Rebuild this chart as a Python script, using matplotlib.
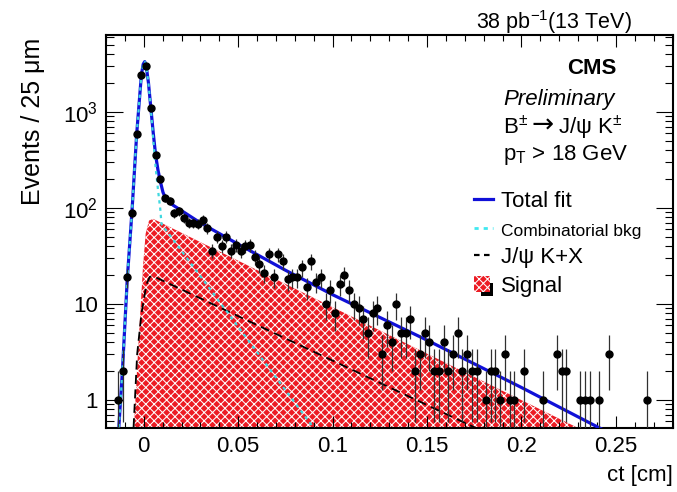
import numpy as np
import matplotlib
matplotlib.use('Agg')
import matplotlib.pyplot as plt
from matplotlib.ticker import FixedLocator, FixedFormatter, MultipleLocator, LogLocator, NullFormatter
from matplotlib.lines import Line2D
from matplotlib.patches import Patch, Rectangle
from matplotlib.legend_handler import HandlerPatch

plt.rcParams['font.family'] = ['Liberation Sans', 'DejaVu Sans']
plt.rcParams['mathtext.fontset'] = 'custom'
plt.rcParams['mathtext.rm'] = 'Liberation Sans'
plt.rcParams['mathtext.it'] = 'Liberation Sans:italic'
plt.rcParams['mathtext.bf'] = 'Liberation Sans:bold'
plt.rcParams['hatch.linewidth'] = 0.75
plt.rcParams['hatch.color'] = 'white'

# ---------------- data ----------------
ct = [-0.01375, -0.01125, -0.00875, -0.00625, -0.00375, -0.00125, 0.00125, 0.00375, 0.00625, 0.00875,
      0.01125, 0.01375, 0.01625, 0.01875, 0.02125, 0.02375, 0.02625, 0.02875, 0.03125, 0.03375,
      0.03625, 0.03875, 0.04125, 0.04375, 0.04625, 0.04875, 0.05125, 0.05375, 0.05625, 0.05875,
      0.06125, 0.06375, 0.06625, 0.06875, 0.07125, 0.07375, 0.07625, 0.07875, 0.08125, 0.08375,
      0.08625, 0.08875, 0.09125, 0.09375, 0.09625, 0.09875, 0.10125, 0.10375, 0.10625, 0.10875,
      0.11125, 0.11375, 0.11625, 0.11875, 0.12125, 0.12375, 0.12625, 0.12875, 0.13125, 0.13375,
      0.13625, 0.13875, 0.14125, 0.14375, 0.14625, 0.14875, 0.15125, 0.15375, 0.15625, 0.15875,
      0.16125, 0.16375, 0.16625, 0.16875, 0.17125, 0.17375, 0.17625,
      0.18125, 0.18375, 0.18625, 0.18875, 0.19125, 0.19375, 0.19625,
      0.20125, 0.21125, 0.21875, 0.22125, 0.22375, 0.23125, 0.23375, 0.23625, 0.24125, 0.24625, 0.26625]
events = [1, 2, 19, 88, 590, 2450, 3010, 1100, 354, 199,
          128, 119, 89, 93, 79, 70, 70, 68, 75, 62,
          36, 50, 40, 50, 36, 41, 36, 40, 41, 31,
          26, 21, 33, 19, 33, 28, 18, 19, 19, 24,
          15, 28, 17, 19, 10, 14, 8, 16, 20, 14,
          10, 9, 7, 5, 8, 9, 3, 6, 4, 10,
          5, 5, 7, 2, 3, 5, 4, 2, 2, 4,
          2, 3, 5, 2, 3, 2, 2,
          1, 2, 2, 1, 3, 1, 1,
          2, 1, 3, 2, 2, 1, 1, 1, 1, 3, 1]

# Total fit curve
fit_ct = [-0.0132, -0.01125, -0.00875, -0.00625, -0.00375, -0.00125, -0.0003, 0.0005, 0.00125, 0.0025,
          0.00375, 0.005, 0.00625, 0.0075, 0.00875, 0.0102, 0.012, 0.0155, 0.03, 0.05,
          0.075, 0.10, 0.15, 0.20, 0.2406, 0.28]
fit_total = [0.52, 2.1, 18, 92, 590, 2450, 3150, 3350, 3050, 2000,
             1100, 610, 360, 250, 190, 145, 122, 107, 70, 42,
             22.5, 12.5, 4.2, 1.35, 0.52, 0.21]

# Combinatorial background (cyan dotted)
comb_ct = [-0.0132, -0.01125, -0.00875, -0.00625, -0.00375, -0.00125, -0.0003, 0.0005, 0.00125, 0.0025,
           0.00375, 0.005, 0.00625, 0.0075, 0.00875, 0.0094, 0.0897, 0.10]
comb_bkg = [0.52, 2.1, 18, 92, 590, 2440, 3130, 3330, 3030, 1970,
            1070, 520, 268, 157, 97, 68, 0.52, 0.28]

# J/psi K + X (black dashed)
jpsikx_ct = [-0.0054, -0.0035, -0.0012, 0.0014, 0.0032, 0.005, 0.175, 0.19]
jpsikx_val = [0.52, 3.0, 8.0, 16.0, 19.2, 19.5, 0.52, 0.3]

# Signal (red hatched)
sig_ct = [-0.0052, -0.0038, -0.0025, -0.0004, 0.001, 0.0028, 0.005, 0.2292, 0.24]
sig_val = [0.52, 1.7, 4.9, 24.5, 54, 74, 77, 0.52, 0.35]

xtick_vals = [0, 0.05, 0.1, 0.15, 0.2, 0.25]
xtick_labels = ['0', '0.05', '0.1', '0.15', '0.2', '0.25']
ytick_vals = [1, 10, 100, 1000]
ytick_labels = ['1', '10', '$10^{2}$', '$10^{3}$']

SIG_RED = '#ec1c24'


class ShadowBoxHandler(HandlerPatch):
    """Hatched box with a small black shadow at the lower right (ROOT style)."""
    def create_artists(self, legend, orig_handle, xdescent, ydescent, width, height,
                       fontsize, trans):
        x0, y0 = -xdescent, -ydescent
        side = height * 1.0
        shadow = Rectangle((x0 + side * 0.45, y0 - side * 0.28), side * 0.8, side * 0.8,
                           facecolor='black', edgecolor='none', transform=trans)
        box = Rectangle((x0, y0), side, side, facecolor=orig_handle.get_facecolor(),
                        edgecolor='white', hatch=orig_handle.get_hatch(), linewidth=0,
                        transform=trans)
        return [shadow, box]


# ---------------- figure ----------------
W, H = 677, 492
fig = plt.figure(figsize=(W / 100, H / 100), dpi=100)
L, R, T, B = 106, 672.5, 35, 427.5
ax = fig.add_axes([L / W, 1 - B / H, (R - L) / W, (B - T) / H])
ax.set_yscale('log')
ax.set_xlim(-0.02, 0.28)
ax.set_ylim(0.517, 6340)

# signal fill
ax.fill_between(sig_ct, sig_val, 1e-3, facecolor=SIG_RED, edgecolor='white',
                hatch='xxxx', linewidth=0, zorder=1)
# J/psi K+X
ax.plot(jpsikx_ct, jpsikx_val, color='black', lw=1.3, dashes=(5, 3), zorder=2)
# total fit
ax.plot(fit_ct, fit_total, color='#1010d8', lw=2.3, zorder=3, solid_capstyle='butt')
# combinatorial bkg
ax.plot(comb_ct, comb_bkg, color='#40d8e0', lw=1.6, dashes=(1.5, 1.8), zorder=4)

# data
ev = np.array(events, dtype=float)
err = np.sqrt(ev)
lo = np.minimum(err, ev - 1e-3)
ax.errorbar(ct, ev, yerr=[lo, err], fmt='o', color='black', ms=5,
            ecolor='#303030', elinewidth=0.9, capsize=0, zorder=5)

# axes styling
for s in ax.spines.values():
    s.set_linewidth(1.5)
ax.xaxis.set_major_locator(FixedLocator(xtick_vals))
ax.xaxis.set_major_formatter(FixedFormatter(xtick_labels))
ax.xaxis.set_minor_locator(MultipleLocator(0.01))
ax.yaxis.set_major_locator(FixedLocator(ytick_vals))
ax.yaxis.set_major_formatter(FixedFormatter(ytick_labels))
ax.yaxis.set_minor_locator(LogLocator(base=10, subs=np.arange(2, 10), numticks=30))
ax.yaxis.set_minor_formatter(NullFormatter())
ax.tick_params(which='both', direction='in', top=True, right=True, width=0.8, labelsize=16)
ax.tick_params(axis='x', which='major', length=8.5, pad=6)
ax.tick_params(axis='x', which='minor', length=4.3)
ax.tick_params(axis='y', which='major', length=12.2, pad=6)
ax.tick_params(axis='y', which='minor', length=6.1)

ax.set_xlabel('ct [cm]', fontsize=16)
ax.xaxis.set_label_coords(1.0, -0.095)
ax.xaxis.label.set_ha('right')
ax.xaxis.label.set_va('top')
ax.set_ylabel('Events / 25 μm', fontsize=18)
ax.yaxis.set_label_coords(-0.108, 0.993)
ax.yaxis.label.set_ha('right')

# header texts
fig.text(632 / W, 1 - 29 / H, '38 pb$^{-1}$(13 TeV)', ha='right', va='baseline', fontsize=15.5)
fig.text(617 / W, 1 - 69 / H, 'CMS', ha='right', va='center', fontsize=16, fontweight='bold')
fig.text(503 / W, 1 - 100 / H, 'Preliminary', ha='left', va='center', fontsize=16, style='italic')

# decay line built from pieces so that the arrow can be longer
renderer = fig.canvas.get_renderer()
y_dec = 1 - 134 / H
t1 = fig.text(503 / W, y_dec, 'B$^{\\pm}$', ha='left', va='baseline', fontsize=16)
bb1 = t1.get_window_extent(renderer)
t2 = fig.text((bb1.x1 + 3) / W, y_dec + 1 / H, '→', ha='left', va='baseline', fontsize=19,
              family='DejaVu Sans')
bb2 = t2.get_window_extent(renderer)
fig.text((bb2.x1 + 5) / W, y_dec, 'J/ψ K$^{\\pm}$', ha='left', va='baseline', fontsize=16)

fig.text(503 / W, 1 - 155 / H, 'p$_{\\mathrm{T}}$ > 18 GeV', ha='left', va='center', fontsize=16)

# legend
handles = [Line2D([], [], color='#1010d8', lw=2.3),
           Line2D([], [], color='#40e8f0', lw=2.0, dashes=(1.5, 1.8)),
           Line2D([], [], color='black', lw=1.6, dashes=(2.5, 2)),
           Patch(facecolor=SIG_RED, edgecolor='white', hatch='xxxx', linewidth=0)]
labels = ['Total fit', 'Combinatorial bkg', 'J/ψ K+X', 'Signal']
leg = ax.legend(handles, labels, loc='upper left', bbox_to_anchor=(474 / W, 1 - 191 / H),
                bbox_transform=fig.transFigure, frameon=False, fontsize=16,
                handlelength=0.85, handletextpad=0.35, labelspacing=0.36,
                borderpad=0, borderaxespad=0,
                handler_map={Patch: ShadowBoxHandler()})
leg.get_texts()[1].set_fontsize(12.5)

fig.savefig('out.png', dpi=100)
